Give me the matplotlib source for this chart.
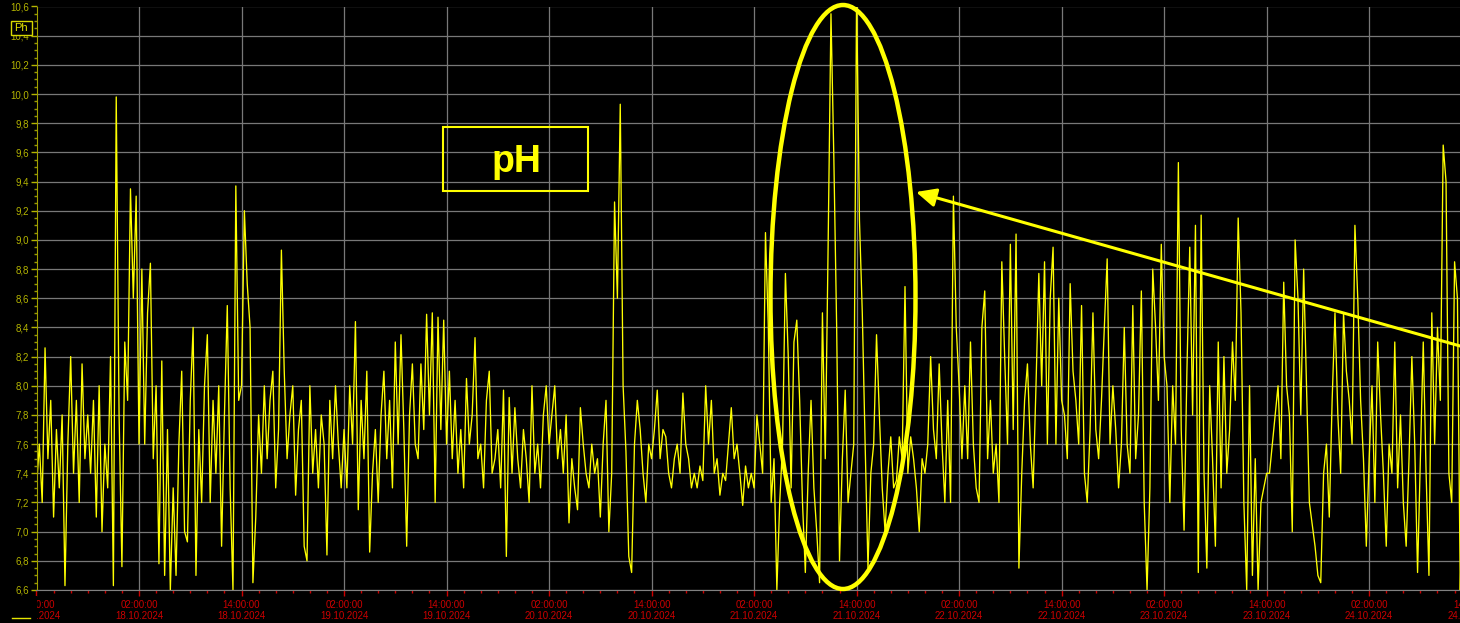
import numpy as np
import matplotlib
matplotlib.use('Agg')
from matplotlib import pyplot as plt
import matplotlib.dates as mdates
from matplotlib.patches import Ellipse, Rectangle, FancyArrowPatch
from matplotlib.lines import Line2D
from matplotlib.ticker import MultipleLocator, FuncFormatter

plt.rcParams['font.family'] = ['Liberation Sans', 'DejaVu Sans']

# pH readings, one every 20 minutes, starting 17.10.2024 14:00, in 12 hour blocks
ph_17_pm = [7.3, 7.6, 7.2, 8.26, 7.5, 7.9, 7.1, 7.7, 7.3, 7.8, 6.63, 7.6,
            8.2, 7.4, 7.9, 7.2, 8.15, 7.5, 7.8, 7.4, 7.9, 7.1, 8.0, 7.0,
            7.6, 7.3, 8.2, 6.63, 9.98, 7.8, 6.76, 8.3, 7.9, 9.35, 8.6, 9.3]
ph_18_am = [7.6, 8.8, 7.6, 8.5, 8.84, 7.5, 8.0, 6.78, 8.17, 6.7, 7.7, 6.6,
            7.3, 6.7, 7.6, 8.1, 7.0, 6.93, 7.9, 8.4, 6.7, 7.7, 7.2, 8.0,
            8.35, 7.2, 7.9, 7.4, 8.0, 6.9, 7.8, 8.55, 7.3, 6.6, 9.37, 7.9]
ph_18_pm = [8.0, 9.2, 8.7, 8.4, 6.65, 7.1, 7.8, 7.4, 8.0, 7.5, 7.9, 8.1,
            7.3, 7.7, 8.93, 8.1, 7.5, 7.8, 8.0, 7.25, 7.7, 7.9, 6.9, 6.8,
            8.0, 7.4, 7.7, 7.3, 7.8, 7.6, 6.84, 7.9, 7.5, 8.0, 7.6, 7.3]
ph_19_am = [7.7, 7.3, 8.0, 7.6, 8.44, 7.15, 7.9, 7.5, 8.1, 6.86, 7.4, 7.7,
            7.2, 7.8, 8.1, 7.5, 7.9, 7.3, 8.3, 7.6, 8.35, 7.7, 6.9, 7.8,
            8.15, 7.6, 7.5, 8.15, 7.7, 8.49, 7.8, 8.5, 7.2, 8.47, 7.7, 8.45]
ph_19_pm = [7.6, 8.1, 7.5, 7.9, 7.4, 7.7, 7.3, 8.05, 7.6, 7.8, 8.33, 7.5,
            7.6, 7.3, 7.9, 8.1, 7.4, 7.5, 7.7, 7.3, 7.97, 6.83, 7.92, 7.4,
            7.85, 7.5, 7.3, 7.7, 7.5, 7.2, 8.0, 7.4, 7.6, 7.3, 7.8, 8.0]
ph_20_am = [7.6, 7.8, 8.0, 7.5, 7.7, 7.4, 7.8, 7.06, 7.5, 7.3, 7.15, 7.85,
            7.6, 7.4, 7.3, 7.6, 7.4, 7.5, 7.1, 7.6, 7.9, 7.0, 7.4, 9.26,
            8.6, 9.93, 8.0, 7.55, 6.83, 6.72, 7.6, 7.9, 7.7, 7.4, 7.2, 7.6]
ph_20_pm = [7.5, 7.7, 7.97, 7.5, 7.7, 7.65, 7.4, 7.3, 7.5, 7.6, 7.4, 7.95,
            7.6, 7.5, 7.3, 7.4, 7.3, 7.45, 7.35, 8.0, 7.6, 7.9, 7.4, 7.5,
            7.25, 7.4, 7.35, 7.6, 7.85, 7.5, 7.6, 7.4, 7.18, 7.45, 7.3, 7.4]
ph_21_am = [7.3, 7.8, 7.6, 7.4, 9.05, 8.4, 7.2, 7.5, 6.6, 7.2, 7.6, 8.77,
            8.2, 7.3, 8.3, 8.45, 7.9, 7.2, 6.72, 7.4, 7.9, 7.3, 7.0, 6.65,
            8.5, 7.5, 8.96, 10.55, 9.57, 8.4, 6.8, 7.5, 7.97, 7.2, 7.4, 7.6]
ph_21_pm = [10.7, 9.14, 8.5, 7.6, 6.75, 7.4, 7.6, 8.35, 7.8, 7.3, 7.0, 7.4,
            7.65, 7.3, 7.35, 7.65, 7.5, 8.68, 7.4, 7.65, 7.5, 7.3, 7.0, 7.5,
            7.4, 7.6, 8.2, 7.7, 7.5, 8.15, 7.6, 7.2, 7.9, 7.2, 9.3, 8.4]
ph_22_am = [8.0, 7.5, 8.0, 7.5, 8.3, 7.6, 7.3, 7.2, 8.4, 8.65, 7.5, 7.9,
            7.4, 7.6, 7.2, 8.85, 8.2, 7.6, 8.97, 7.7, 9.04, 6.75, 7.4, 7.9,
            8.15, 7.6, 7.3, 8.0, 8.77, 8.0, 8.85, 7.6, 8.6, 8.95, 7.6, 8.6]
ph_22_pm = [7.9, 7.8, 7.5, 8.7, 8.1, 7.9, 7.6, 8.55, 7.4, 7.2, 7.7, 8.5,
            7.7, 7.5, 7.9, 8.4, 8.87, 7.6, 8.0, 7.7, 7.3, 7.6, 8.4, 7.6,
            7.4, 8.55, 7.5, 7.8, 8.65, 7.2, 6.6, 7.3, 8.8, 8.4, 7.9, 8.97]
ph_23_am = [8.2, 8.0, 7.2, 8.0, 7.6, 9.53, 7.7, 7.01, 8.1, 8.95, 7.8, 9.1,
            6.72, 9.17, 7.4, 6.75, 8.0, 7.5, 6.9, 8.3, 7.3, 8.2, 7.4, 7.7,
            8.3, 7.9, 9.15, 8.5, 7.2, 6.6, 8.0, 6.7, 7.5, 6.6, 7.2, 7.3]
ph_23_pm = [7.4, 7.4, 7.6, 7.8, 8.0, 7.5, 8.71, 8.0, 7.8, 7.0, 9.0, 8.6,
            7.8, 8.8, 8.0, 7.2, 7.05, 6.9, 6.7, 6.65, 7.4, 7.6, 7.1, 7.9,
            8.5, 7.8, 7.4, 8.5, 8.1, 7.9, 7.6, 9.1, 8.6, 7.9, 7.5, 6.9]
ph_24_am = [7.5, 8.0, 7.2, 8.3, 7.8, 7.4, 6.9, 7.6, 7.4, 8.3, 7.3, 7.8,
            7.2, 6.9, 7.5, 8.2, 7.6, 6.72, 7.5, 8.3, 7.4, 6.7, 8.5, 7.6,
            8.4, 7.9, 9.65, 9.4, 7.4, 7.2, 8.85, 8.6, 6.6, 7.5]

ph = (ph_17_pm + ph_18_am + ph_18_pm + ph_19_am + ph_19_pm + ph_20_am + ph_20_pm
      + ph_21_am + ph_21_pm + ph_22_am + ph_22_pm + ph_23_am + ph_23_pm + ph_24_am)

t0 = np.datetime64('2024-10-17T14:00')
times = t0 + np.arange(len(ph)) * np.timedelta64(20, 'm')

W, H = 1460, 623
def fx(x):
    return x / W
def fy(y):
    return 1 - y / H

fig = plt.figure(figsize=(14.6, 6.23), dpi=100, facecolor='black')
# axes run past the right edge of the figure, like the cut-off screenshot
ax = fig.add_axes([fx(36.5), fy(590), (1500 - 36.5) / W, (590 - 6.5) / H])
ax.set_facecolor('black')

ax.plot(times, ph, color='#ffff00', lw=0.95)

ax.set_xlim(t0, t0 + np.timedelta64(int(171.33 * 60), 'm'))
ax.set_ylim(6.6, 10.6)

ax.xaxis.set_major_locator(mdates.HourLocator(byhour=[2, 14]))
ax.xaxis.set_minor_locator(mdates.HourLocator(interval=2))
ax.xaxis.set_major_formatter(mdates.DateFormatter('%H:%M:%S\n%d.%m.%Y'))
ax.yaxis.set_major_locator(MultipleLocator(0.2))
ax.yaxis.set_minor_locator(MultipleLocator(0.05))
ax.yaxis.set_major_formatter(FuncFormatter(lambda v, p: f'{v:.1f}'.replace('.', ',')))

ax.tick_params(axis='x', which='major', colors='#cc0000', labelsize=7, length=4, width=1, pad=3)
ax.tick_params(axis='x', which='minor', colors='#cc0000', length=2, width=1)
ax.tick_params(axis='y', which='major', colors='#b4b400', labelsize=7, length=4, width=1, pad=1.5)
ax.tick_params(axis='y', which='minor', colors='#9a9a00', length=2, width=1)

ax.grid(True, which='major', color='#787878', lw=0.9)
for s in ['top', 'right']:
    ax.spines[s].set_visible(False)
ax.spines['left'].set_color('#a0a000')
ax.spines['bottom'].set_color('#808080')

# hide the left half of the first date label, as in the original
fig.add_artist(Rectangle((0, 0), fx(36.5), 27 / H, transform=fig.transFigure,
                         facecolor='black', edgecolor='none', zorder=5))
fig.add_artist(Line2D([fx(12), fx(30)], [fy(617.5), fy(617.5)], transform=fig.transFigure,
                      color='#e6e600', lw=1, zorder=6))

# legend box "Ph"
fig.add_artist(Rectangle((fx(10.7), fy(34.7)), 21 / W, 14 / H, transform=fig.transFigure,
                         facecolor='black', edgecolor='#d8d800', lw=1, zorder=6))
fig.text(fx(21.2), fy(28), 'Ph', color='#e6e600', fontsize=8, ha='center', va='center', zorder=7)

# "pH" label box
fig.add_artist(Rectangle((fx(443), fy(191)), (588 - 443) / W, (191 - 127) / H,
                         transform=fig.transFigure, facecolor='none', edgecolor='#ffff00',
                         lw=1.5, zorder=6))
fig.text(fx(516), fy(172), 'pH', color='#ffff00', fontsize=27, fontweight='bold',
         ha='center', va='baseline', zorder=7)

# ellipse around the spikes and the arrow pointing at it
fig.add_artist(Ellipse((fx(843), fy(297)), 145 / W, 584 / H, transform=fig.transFigure,
                       fill=False, edgecolor='#ffff00', lw=3.2, zorder=6))
fig.add_artist(FancyArrowPatch((fx(1475), fy(350.2)), (fx(916), fy(192)),
                               transform=fig.transFigure,
                               arrowstyle='-|>,head_length=0.75,head_width=0.35',
                               mutation_scale=16, color='#ffff00', lw=2.2,
                               shrinkA=0, shrinkB=0, zorder=6))

fig.savefig('out.png', dpi=100, facecolor='black')
